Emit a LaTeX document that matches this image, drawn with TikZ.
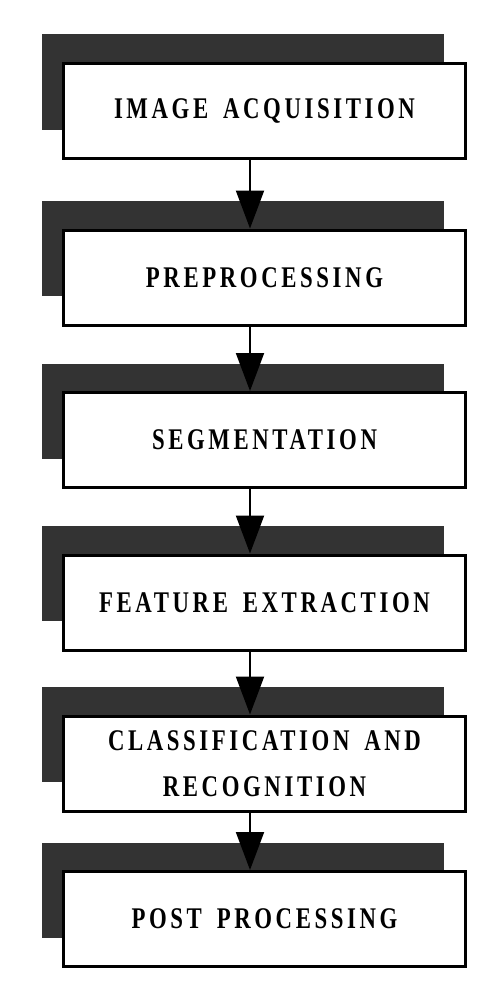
\documentclass[tikz,border=0pt]{standalone}
\usepackage{fontspec}
\setmainfont{Liberation Serif}[FakeStretch=0.76,LetterSpace=12,WordSpace=1.6]
\usetikzlibrary{arrows.meta}
\usetikzlibrary{shadows}
\definecolor{sgrau}{HTML}{333333}

\begin{document}
\begin{tikzpicture}[x=1pt,y=1pt,>={Triangle[width=28pt,length=38pt]},every edge/.style={draw=black,line width=2pt},
        stufe/.style={draw, rectangle, line width=3pt, fill=white, minimum width=402pt, minimum height=95pt, align=center,
            font=\fontsize{30}{46}\selectfont\bfseries, general shadow={fill=sgrau, shadow xshift=-22pt, shadow yshift=29pt}}]
        \useasboundingbox (0,0) rectangle (490,-982);

        \node[stufe] (IA) at (264.5, -111) {IMAGE ACQUISITION};

        \node[stufe] (PP) at (264.5, -277.5) {PREPROCESSING};

        \node[stufe] (SEG) at (264.5, -440) {SEGMENTATION};

        \node[stufe] (FE) at (264.5, -602.5) {FEATURE EXTRACTION};

        \node[stufe] (CR) at (264.5, -763.5) {CLASSIFICATION AND\\RECOGNITION};

        \node[stufe] (POST) at (264.5, -919) {POST PROCESSING};

        \path [->]([xshift=-14.5pt]IA.south) edge ([xshift=-14.5pt]PP.north);
        \path [->]([xshift=-14.5pt]PP.south) edge ([xshift=-14.5pt]SEG.north);
        \path [->]([xshift=-14.5pt]SEG.south) edge ([xshift=-14.5pt]FE.north);
        \path [->]([xshift=-14.5pt]FE.south) edge ([xshift=-14.5pt]CR.north);
        \path [->]([xshift=-14.5pt]CR.south) edge ([xshift=-14.5pt]POST.north);

    \end{tikzpicture}
\end{document}
